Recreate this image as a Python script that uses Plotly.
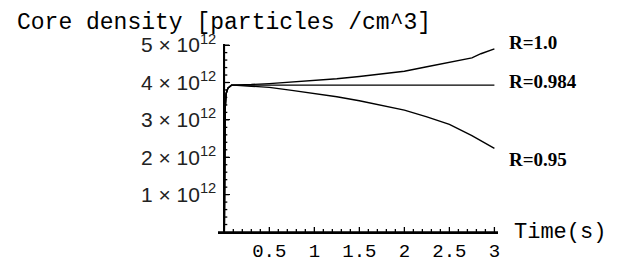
import plotly.graph_objects as go
import numpy as np

# ---- data ----
SCALE = 1e12
time_s = [0, 0.002, 0.01, 0.02, 0.04, 0.08, 0.1, 0.3, 0.5, 0.75, 1.0, 1.25,
          1.5, 1.75, 2.0, 2.25, 2.5, 2.75, 2.85, 3.0]
dens_r100 = [0, 2.3, 3.3, 3.7, 3.85, 3.93, 3.93, 3.945, 3.97, 4.01, 4.05, 4.10,
             4.16, 4.22, 4.30, 4.42, 4.53, 4.66, 4.77, 4.90]
dens_r0984 = [0, 2.3, 3.3, 3.7, 3.85, 3.93, 3.93, 3.93, 3.93, 3.93, 3.93, 3.93,
              3.93, 3.93, 3.93, 3.93, 3.93, 3.93, 3.93, 3.93]
dens_r095 = [0, 2.3, 3.3, 3.7, 3.85, 3.93, 3.93, 3.90, 3.87, 3.79, 3.71, 3.62,
             3.51, 3.39, 3.26, 3.08, 2.88, 2.58, 2.45, 2.24]
series_names = ["R=1.0", "R=0.984", "R=0.95"]
label_y = [5.08, 4.02, 1.95]          # label positions (x10^12)
label_t = 3.135

x_tickvals = [0.5, 1, 1.5, 2, 2.5, 3]
x_ticktext = ["0.5", "1", "1.5", "2", "2.5", "3"]
x_minor = [round(0.1 * i, 1) for i in range(1, 31)]
y_tickvals = [1, 2, 3, 4, 5]
y_ticktext = [f"{v} × 10<sup>12</sup>" for v in y_tickvals]
y_minor = [round(0.2 * i, 1) for i in range(1, 26)]

x_range = [-0.07, 3.04]
y_range = [0, 5.03 * SCALE]

MONO = "Courier New, Courier, Liberation Mono, monospace"
SERIF = "Liberation Serif, Times New Roman, serif"
SANS = "Liberation Sans, Arial, sans-serif"


def paper_x(t):
    return (t - x_range[0]) / (x_range[1] - x_range[0])


def paper_y(v):
    return (v - y_range[0]) / (y_range[1] - y_range[0])


fig = go.Figure()
for name, vals in zip(series_names, [dens_r100, dens_r0984, dens_r095]):
    fig.add_trace(go.Scatter(
        x=time_s, y=np.array(vals) * SCALE, mode="lines", name=name,
        line=dict(color="black", width=1.4), showlegend=False))

for name, ly in zip(series_names, label_y):
    fig.add_annotation(x=paper_x(label_t), y=paper_y(ly * SCALE),
                       xref="paper", yref="paper", text=name,
                       showarrow=False, xanchor="left", yanchor="middle",
                       font=dict(family=SERIF, size=19, color="black", weight="bold"))

fig.add_annotation(x=paper_x(3.19), y=paper_y(0), xref="paper", yref="paper",
                   text="Time(s)", showarrow=False, xanchor="left", yanchor="middle",
                   font=dict(family=MONO, size=22, color="black"))

# ---- axis lines and tick marks (Mathematica-style crossing axes) ----
AX = dict(color="black", width=1.6)
TK = dict(color="black", width=1.3)
fig.add_shape(type="line", xref="paper", yref="y", x0=0, x1=1, y0=0, y1=0,
              line=AX, layer="above")
fig.add_shape(type="line", xref="x", yref="paper", x0=0, x1=0, y0=0, y1=1,
              line=AX, layer="above")
for t in x_minor:
    ln = 5 if t in x_tickvals else 3
    fig.add_shape(type="line", xref="x", yref="y", ysizemode="pixel", yanchor=0,
                  x0=t, x1=t, y0=0, y1=ln, line=TK, layer="above")
for v in y_minor:
    ln = 5 if v in y_tickvals else 3
    fig.add_shape(type="line", xref="x", yref="y", xsizemode="pixel", xanchor=0,
                  x0=0, x1=ln, y0=v * SCALE, y1=v * SCALE, line=TK, layer="above")

fig.update_layout(
    width=620, height=260,
    margin=dict(l=218, r=122, t=44, b=28, autoexpand=False),
    paper_bgcolor="white", plot_bgcolor="white",
    title=dict(text="Core density [particles /cm^3]", xref="container",
               yref="container", x=17 / 620, xanchor="left",
               y=1 - 21 / 260, yanchor="middle",
               font=dict(family=MONO, size=23, color="black")),
    xaxis=dict(range=x_range, automargin=False,
               showline=True, linecolor="black", linewidth=1.6,
               ticks="inside", ticklen=5, tickwidth=1.3, tickcolor="black",
               tickmode="array", tickvals=x_tickvals, ticktext=x_ticktext,
               tickfont=dict(family=MONO, size=19, color="black"),
               showgrid=False, zeroline=False),
    yaxis=dict(range=y_range, anchor="free", automargin=False,
               position=paper_x(0),
               showline=True, linecolor="black", linewidth=1.6,
               ticks="inside", ticklen=5, tickwidth=1.3, tickcolor="black",
               tickmode="array",
               tickvals=[v * SCALE for v in y_tickvals], ticktext=y_ticktext,
               tickfont=dict(family=SANS, size=21, color="#222"),
               showgrid=False, zeroline=False, ticklabelstandoff=3),
)

fig.write_html("out.html", config={"displayModeBar": False},
               post_script="document.body.style.margin='0';"
                           "document.body.style.overflow='hidden';")
